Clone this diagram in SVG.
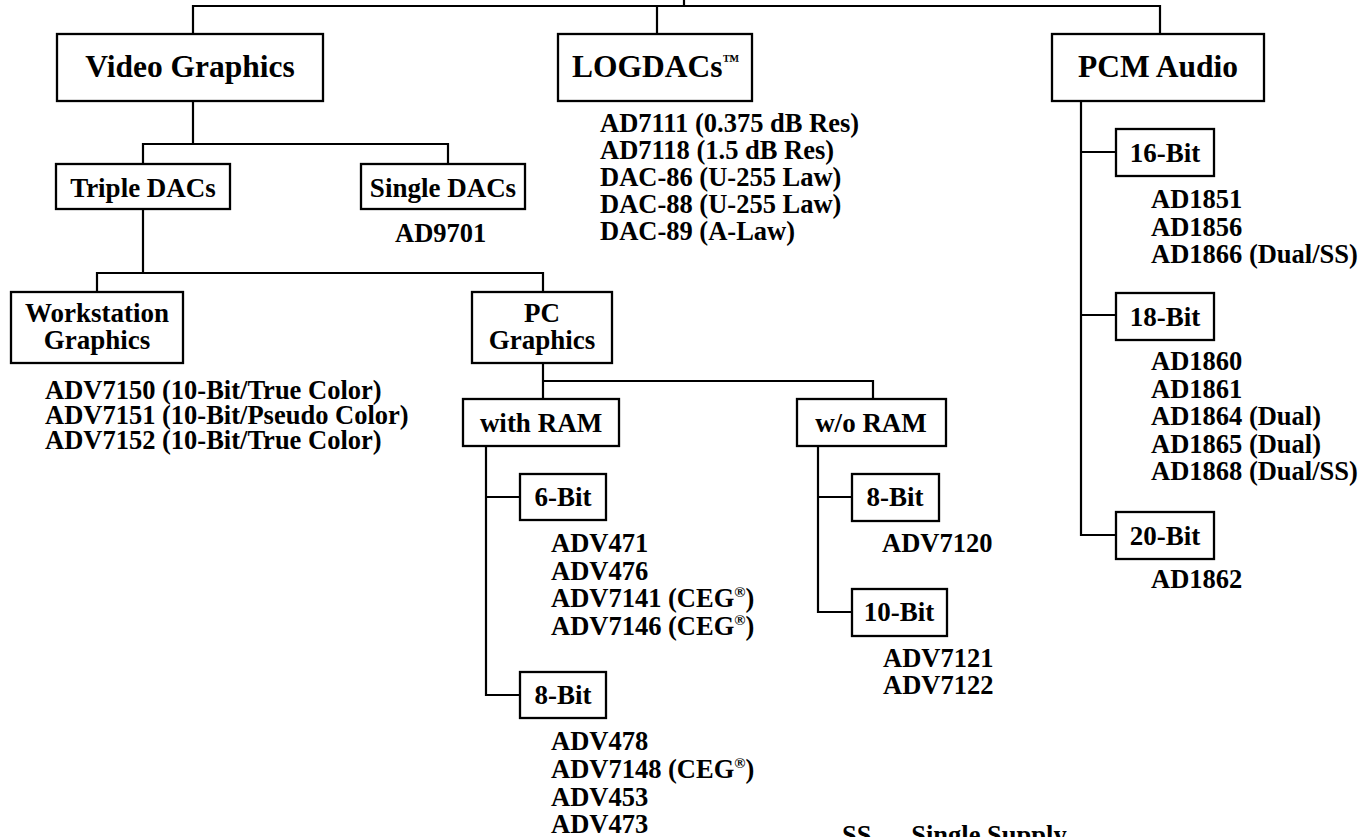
<svg xmlns="http://www.w3.org/2000/svg" width="1365" height="837" viewBox="0 0 1365 837">
<style>
text{font-family:"Liberation Serif","Times New Roman",serif;font-weight:bold;fill:#000}
.big{font-size:31.5px;text-anchor:middle}
.mid{font-size:27px;text-anchor:middle}
.lst{font-size:26.5px}
.box{fill:#fff;stroke:#000;stroke-width:2.3}
.ln{fill:none;stroke:#000;stroke-width:2.2}
.sup{font-size:15px}
</style>
<rect width="1365" height="837" fill="#fff"/>
<g id="connectors" class="ln">
<path d="M684 0V6M193 34V6H1160V34M657 6V34"/>
<path d="M193 101V144M143 164V144H448V164"/>
<path d="M143 209V273M97 292V273H543V292"/>
<path d="M543 363V399M543 381H873V399"/>
<path d="M486 446V695H520M486 497H520"/>
<path d="M818 446V612H852M818 497H852"/>
<path d="M1081 101V535H1116M1081 152H1116M1081 315H1116"/>
</g>
<g id="video"><rect class="box" x="57" y="34" width="266" height="67"/><text class="big" x="190" y="77">Video Graphics</text></g>
<g id="logdacs"><rect class="box" x="558" y="34" width="194" height="67"/><text x="572" y="77" style="font-size:31.5px">LOGDACs<tspan font-size="17" dy="-11">™</tspan></text>
<text class="lst" x="600" y="132">AD7111 (0.375 dB Res)</text>
<text class="lst" x="600" y="159">AD7118 (1.5 dB Res)</text>
<text class="lst" x="600" y="186">DAC-86 (U-255 Law)</text>
<text class="lst" x="600" y="213">DAC-88 (U-255 Law)</text>
<text class="lst" x="600" y="240">DAC-89 (A-Law)</text></g>
<g id="pcm"><rect class="box" x="1052" y="34" width="212" height="67"/><text class="big" x="1158" y="77">PCM Audio</text></g>
<g id="triple"><rect class="box" x="56" y="164" width="174" height="45"/><text class="mid" x="143" y="197">Triple DACs</text></g>
<g id="single"><rect class="box" x="361" y="164" width="164" height="45"/><text class="mid" x="443" y="197">Single DACs</text>
<text class="lst" x="395" y="242">AD9701</text></g>
<g id="workstation"><rect class="box" x="11" y="292" width="172" height="71"/><text class="mid" x="97" y="322">Workstation</text><text class="mid" x="97" y="349">Graphics</text>
<text class="lst" x="45" y="399">ADV7150 (10-Bit/True Color)</text>
<text class="lst" x="45" y="424">ADV7151 (10-Bit/Pseudo Color)</text>
<text class="lst" x="45" y="449">ADV7152 (10-Bit/True Color)</text></g>
<g id="pc"><rect class="box" x="472" y="292" width="140" height="71"/><text class="mid" x="542" y="322">PC</text><text class="mid" x="542" y="349">Graphics</text></g>
<g id="withram"><rect class="box" x="463" y="399" width="156" height="47"/><text class="mid" x="541" y="432">with RAM</text></g>
<g id="woram"><rect class="box" x="797" y="399" width="149" height="47"/><text class="mid" x="871" y="432">w/o RAM</text></g>
<g id="wr6"><rect class="box" x="520" y="474" width="86" height="46"/><text class="mid" x="563" y="506">6-Bit</text>
<text class="lst" x="551" y="552">ADV471</text>
<text class="lst" x="551" y="580">ADV476</text>
<text class="lst" x="551" y="607">ADV7141 (CEG<tspan class="sup" dy="-10">®</tspan><tspan dy="10">)</tspan></text>
<text class="lst" x="551" y="635">ADV7146 (CEG<tspan class="sup" dy="-10">®</tspan><tspan dy="10">)</tspan></text></g>
<g id="wr8"><rect class="box" x="520" y="672" width="86" height="46"/><text class="mid" x="563" y="704">8-Bit</text>
<text class="lst" x="551" y="750">ADV478</text>
<text class="lst" x="551" y="778">ADV7148 (CEG<tspan class="sup" dy="-10">®</tspan><tspan dy="10">)</tspan></text>
<text class="lst" x="551" y="806">ADV453</text>
<text class="lst" x="551" y="833">ADV473</text></g>
<g id="wo8"><rect class="box" x="852" y="474" width="87" height="47"/><text class="mid" x="895" y="506">8-Bit</text>
<text class="lst" x="882" y="552">ADV7120</text></g>
<g id="wo10"><rect class="box" x="852" y="589" width="95" height="47"/><text class="mid" x="899" y="621">10-Bit</text>
<text class="lst" x="883" y="667">ADV7121</text>
<text class="lst" x="883" y="694">ADV7122</text></g>
<g id="p16"><rect class="box" x="1116" y="129" width="98" height="47"/><text class="mid" x="1165" y="162">16-Bit</text>
<text class="lst" x="1151" y="208">AD1851</text>
<text class="lst" x="1151" y="236">AD1856</text>
<text class="lst" x="1151" y="263">AD1866 (Dual/SS)</text></g>
<g id="p18"><rect class="box" x="1116" y="293" width="98" height="47"/><text class="mid" x="1165" y="326">18-Bit</text>
<text class="lst" x="1151" y="370">AD1860</text>
<text class="lst" x="1151" y="398">AD1861</text>
<text class="lst" x="1151" y="425">AD1864 (Dual)</text>
<text class="lst" x="1151" y="453">AD1865 (Dual)</text>
<text class="lst" x="1151" y="480">AD1868 (Dual/SS)</text></g>
<g id="p20"><rect class="box" x="1116" y="512" width="98" height="47"/><text class="mid" x="1165" y="545">20-Bit</text>
<text class="lst" x="1151" y="588">AD1862</text></g>
<g id="note"><text class="lst" x="842" y="844">SS — Single Supply</text></g>
</svg>
